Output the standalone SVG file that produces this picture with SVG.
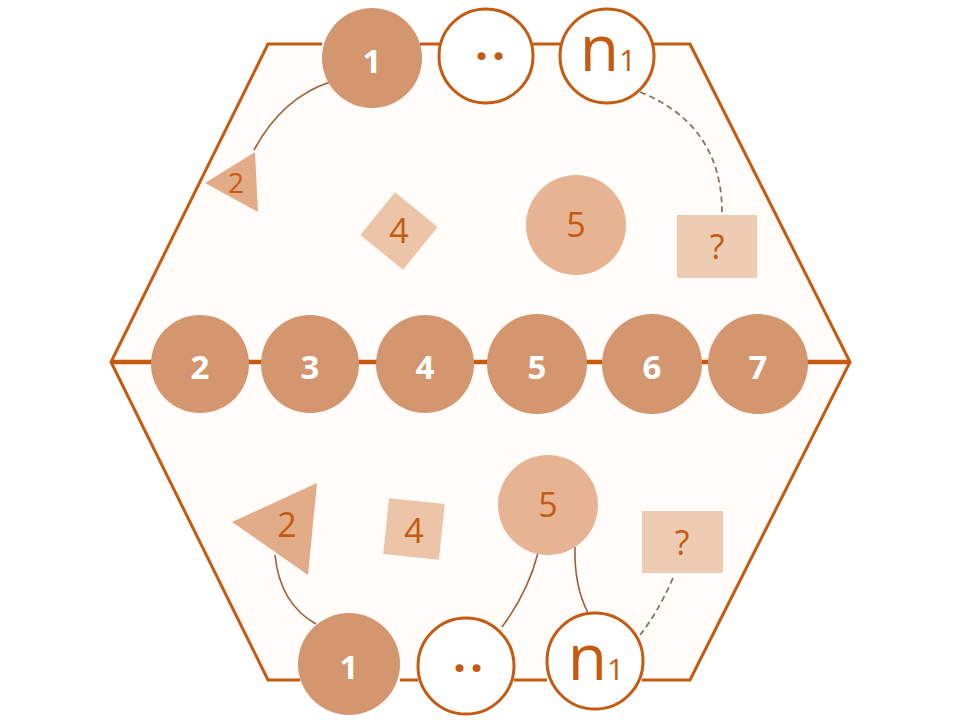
<svg xmlns="http://www.w3.org/2000/svg" width="960" height="720" viewBox="0 0 960 720">
<style>
text{font-family:"Open Sans","Liberation Sans",sans-serif;text-anchor:middle;dominant-baseline:central}
.frame{fill:none;stroke:#C55A11;stroke-width:3}
.axis{stroke:#C55A11;stroke-width:4.5}
.solid{fill:#D4966E}
.hollow{fill:#FFFFFF;stroke:#C55A11;stroke-width:3}
.w{fill:#FFFFFF;font-weight:bold;font-size:33px}
.o{fill:#C55A11;font-size:34px}
.dots{fill:#C55A11;font-weight:bold;font-size:46px;letter-spacing:4px}
.link{fill:none;stroke:#9C5F3A;stroke-width:1.6}
.dash{fill:none;stroke:#8A7262;stroke-width:1.8;stroke-dasharray:6 4}
.tri{fill:#E3AC89}
.sq{fill:#ECC4A8}
.rc{fill:#EECCB4}
.c5{fill:#E6B493}
</style>
<rect width="960" height="720" fill="#FFFFFF"/>
<g id="frame">
<polygon points="268,44 690,44 850,362 690,680 268,680 111,362" fill="#FFFCFA" stroke="none"/>
<line class="axis" x1="111" y1="362" x2="850" y2="362"/>
<polyline class="frame" points="322,44 268,44 111,362 268,680 300,680"/>
<polyline class="frame" points="653,44 690,44 850,362 690,680 642,680"/>
<line class="frame" x1="420" y1="44" x2="440" y2="44"/>
<line class="frame" x1="533" y1="44" x2="560" y2="44"/>
<line class="frame" x1="400" y1="680" x2="418" y2="680"/>
<line class="frame" x1="514" y1="680" x2="547" y2="680"/>
</g>
<g id="connectors">
<path class="link" d="M330,82 Q282,98 254,150"/>
<path class="dash" d="M640,92 C690,112 722,150 722,212"/>
<path class="link" d="M275,555 Q280,604 316,624"/>
<path class="link" d="M538,553 Q528,592 502,627"/>
<path class="link" d="M575,547 Q574,586 588,613"/>
<path class="dash" d="M673,578 Q657,614 640,635"/>
</g>
<g id="top-1"><circle class="solid" cx="372" cy="58" r="50"/><text class="w" x="372" y="60">1</text></g>
<g id="top-dots"><circle class="hollow" cx="486" cy="56" r="47"/><text class="dots" x="492" y="42">..</text></g>
<g id="top-n1"><circle class="hollow" cx="607" cy="56" r="47"/><text x="608" y="71" fill="#C55A11" style="dominant-baseline:alphabetic"><tspan font-size="64">n</tspan><tspan font-size="30">1</tspan></text></g>
<g id="top-tri2"><polygon class="tri" points="205,183 255,152 258,212"/><text class="o" x="236" y="182" style="font-size:28px">2</text></g>
<g id="top-sq4"><rect class="sq" x="-27.5" y="-27.5" width="55" height="55" transform="translate(399,231) rotate(39)"/><text class="o" x="399" y="230">4</text></g>
<g id="top-c5"><circle class="c5" cx="576" cy="225" r="50"/><text class="o" x="576" y="224">5</text></g>
<g id="top-q"><rect class="rc" x="677" y="215" width="80" height="63"/><text class="o" x="717" y="246">?</text></g>
<g id="mid-2"><circle class="solid" cx="200" cy="364" r="49"/><text class="w" x="200" y="366">2</text></g>
<g id="mid-3"><circle class="solid" cx="310" cy="364" r="49"/><text class="w" x="310" y="366">3</text></g>
<g id="mid-4"><circle class="solid" cx="425" cy="364" r="49"/><text class="w" x="425" y="366">4</text></g>
<g id="mid-5"><circle class="solid" cx="537" cy="364" r="50"/><text class="w" x="537" y="366">5</text></g>
<g id="mid-6"><circle class="solid" cx="652" cy="364" r="50"/><text class="w" x="652" y="366">6</text></g>
<g id="mid-7"><circle class="solid" cx="758" cy="364" r="50"/><text class="w" x="758" y="366">7</text></g>
<g id="bot-tri2"><polygon class="tri" points="232,522 317,483 308,575"/><text class="o" x="287" y="524">2</text></g>
<g id="bot-sq4"><rect class="sq" x="-28" y="-28" width="56" height="56" transform="translate(414,529) rotate(6)"/><text class="o" x="414" y="530">4</text></g>
<g id="bot-c5"><circle class="c5" cx="548" cy="505" r="50"/><text class="o" x="548" y="504">5</text></g>
<g id="bot-q"><rect class="rc" x="642" y="511" width="81" height="62"/><text class="o" x="682" y="542">?</text></g>
<g id="bot-1"><circle class="solid" cx="349" cy="664" r="51"/><text class="w" x="349" y="666">1</text></g>
<g id="bot-dots"><circle class="hollow" cx="466" cy="666" r="48"/><text class="dots" x="470" y="654">..</text></g>
<g id="bot-n1"><circle class="hollow" cx="595" cy="661" r="48"/><text x="596" y="680" fill="#C55A11" style="dominant-baseline:alphabetic"><tspan font-size="64">n</tspan><tspan font-size="30">1</tspan></text></g>
</svg>
